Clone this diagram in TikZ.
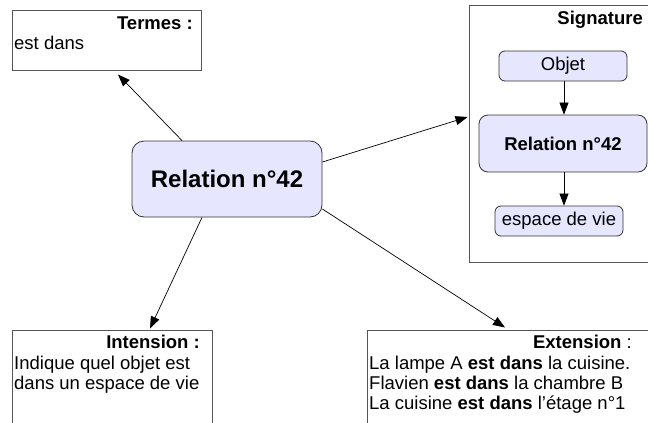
\documentclass[tikz,border=0pt]{standalone}
\usepackage{fontspec}
\setmainfont{Liberation Sans}
\usetikzlibrary{arrows.meta}
\definecolor{boxfill}{HTML}{E6E6FF}
\definecolor{boxline}{HTML}{555555}
\begin{document}
\begin{tikzpicture}[x=1pt,y=-1pt,
  frame/.style={draw=boxline, line width=1pt, fill=white, rectangle, inner sep=0pt},
  rbox/.style={draw=black!80, fill=boxfill, rounded corners=6pt, line width=0.8pt, inner sep=0pt,
    font=\fontsize{18.5}{20}\selectfont},
  arr/.style={line width=0.7pt, -{Triangle[length=12pt,width=9pt]}},
  txt/.style={font=\fontsize{18.5}{20}\selectfont, inner sep=0pt},
]
\useasboundingbox (0,0) rectangle (648,423);
\clip (0,0) rectangle (648,423);
\fill[white] (0,0) rectangle (648,423);

% frames
\node[frame, minimum width=189pt, minimum height=60pt] (termes) at (106.5,40) {};
\node[frame, minimum width=191pt, minimum height=257pt] (sig) at (564.5,133.5) {};
\node[frame, minimum width=200pt, minimum height=110pt] (intension) at (112,385) {};
\node[frame, minimum width=333pt, minimum height=110pt] (extension) at (533.5,385) {};

% frame texts
\node[txt, anchor=base east] (termesT) at (193,29) {\textbf{Termes :}};
\node[txt, anchor=base west] (termesL) at (14,49) {est dans};
\node[txt, anchor=base east] (sigT) at (643,24) {\textbf{Signature}};
\node[txt, anchor=base east] (intT) at (200,348) {\textbf{Intension :}};
\node[txt, anchor=base west] (intL1) at (14,369) {Indique quel objet est};
\node[txt, anchor=base west] (intL2) at (14,389.5) {dans un espace de vie};
\node[txt, anchor=base east] (extT) at (632,348) {\textbf{Extension} :};
\node[txt, anchor=base west] (extL1) at (369,369) {La lampe A \textbf{est dans} la cuisine.};
\node[txt, anchor=base west] (extL2) at (369,389) {Flavien \textbf{est dans} la chambre B};
\node[txt, anchor=base west] (extL3) at (369,409) {La cuisine \textbf{est dans} l'étage n°1};

% signature inner nodes
\node[rbox, minimum width=128pt, minimum height=30pt] (objet) at (563,66) {Objet};
\node[rbox, rounded corners=9pt, minimum width=168pt, minimum height=57pt] (rel2) at (563,143.5) {\textbf{Relation n°42}};
\node[rbox, minimum width=128pt, minimum height=30pt] (espace) at (559,221) {espace de vie};
\draw[arr] ([xshift=1pt]objet.south) -- ([xshift=1pt]objet.south |- rel2.north);
\draw[arr] ([xshift=1pt]rel2.south) -- ([xshift=1pt]rel2.south |- espace.north);

% main node
\node[rbox, rounded corners=12pt, minimum width=190pt, minimum height=76pt,
  font=\fontsize{24}{28}\selectfont\bfseries] (main) at (227,179) {Relation n°42};

% arrows
\draw[arr] ([xshift=-45pt]main.north) -- ([xshift=11.5pt,yshift=-4pt]termes.south);
\draw[arr] ([yshift=17pt]main.east) -- ([xshift=-1pt,yshift=16.5pt]sig.west);
\draw[arr] ([xshift=-25pt]main.south) -- ([xshift=38pt,yshift=1pt]intension.north);
\draw[arr] ([yshift=-30pt]main.east) -- ([xshift=-28.5pt,yshift=2pt]extension.north);
\end{tikzpicture}
\end{document}
